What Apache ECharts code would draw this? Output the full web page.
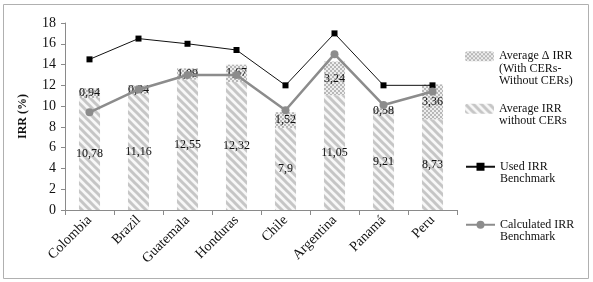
<!DOCTYPE html>
<html>
<head>
<meta charset="utf-8">
<script src="https://cdn.jsdelivr.net/npm/echarts@6/dist/echarts.min.js"></script>
<style>
  html, body { margin: 0; padding: 0; background: #fff; }
  #chart { width: 593px; height: 282px; }
</style>
</head>
<body>
<div id="chart"></div>
<script>
  // 数据
  const countries = ['Colombia', 'Brazil', 'Guatemala', 'Honduras', 'Chile', 'Argentina', 'Panamá', 'Peru']
  const irrWithout = [10.78, 11.16, 12.55, 12.32, 7.9, 11.05, 9.21, 8.73]
  const deltaIrr = [0.94, 0.84, 1.09, 1.67, 1.52, 3.24, 0.58, 3.36]
  const usedBenchmark = [14.5, 16.5, 16.0, 15.4, 12.0, 17.0, 12.0, 12.0]
  const calcBenchmark = [9.4, 11.6, 13.0, 13.0, 9.6, 15.0, 10.1, 11.4]
  const yTicks = { min: 0, max: 18, interval: 2 }

  const font = 'Liberation Serif'

  /** 斜线填充 */
  const makeHatch = () => {
    const c = document.createElement('canvas')
    c.width = 8
    c.height = 8
    const ctx = c.getContext('2d')
    ctx.fillStyle = '#f7f7f7'
    ctx.fillRect(0, 0, 8, 8)
    ctx.strokeStyle = '#c6c6c6'
    ctx.lineWidth = 3
    ctx.beginPath()
    ctx.moveTo(-2, -2); ctx.lineTo(10, 10)
    ctx.moveTo(-10, -2); ctx.lineTo(2, 10)
    ctx.moveTo(6, -2); ctx.lineTo(18, 10)
    ctx.stroke()
    return c
  }

  /** 棋盘点填充 */
  const makeDots = () => {
    const c = document.createElement('canvas')
    c.width = 4
    c.height = 4
    const ctx = c.getContext('2d')
    ctx.fillStyle = '#eeeeee'
    ctx.fillRect(0, 0, 4, 4)
    ctx.fillStyle = '#b8b8b8'
    ctx.fillRect(0, 0, 2, 2)
    ctx.fillRect(2, 2, 2, 2)
    return c
  }

  const fmt = (p) => String(p.value).replace('.', ',')

  // 图例图标对齐第一行：在文字前补空行
  const firstLineFmt = (name) => '\n'.repeat(name.split('\n').length - 1) + name

  const chartDom = echarts.init(document.getElementById('chart'))

  const legendBase = {
    orient: 'vertical',
    left: 460,
    itemWidth: 29,
    itemHeight: 10,
    itemGap: 0,
    selectedMode: false,
    formatter: firstLineFmt,
    textStyle: { fontFamily: font, fontSize: 12, color: '#111', lineHeight: 12.5 }
  }

  chartDom.setOption({
    animation: false,
    graphic: [{
      type: 'rect',
      shape: { x: 3.5, y: 4.5, width: 585, height: 274 },
      style: { fill: 'none', stroke: '#b0b0b0', lineWidth: 1 },
      silent: true
    }],
    legend: [
      Object.assign({}, legendBase, { top: 20, data: ['Average Δ IRR\n(With CERs-\nWithout CERs)'] }),
      Object.assign({}, legendBase, { top: 85, data: ['Average IRR\nwithout CERs'] }),
      Object.assign({}, legendBase, { top: 143, data: ['Used IRR\nBenchmark'] }),
      Object.assign({}, legendBase, { top: 201, data: ['Calculated IRR\nBenchmark'] })
    ],
    grid: { left: 65, right: 136, top: 23, bottom: 72 },
    xAxis: {
      type: 'category',
      data: countries,
      axisLine: { lineStyle: { color: '#8a8a8a' } },
      axisTick: { show: true, lineStyle: { color: '#8a8a8a' } },
      axisLabel: { rotate: 45, fontFamily: font, fontSize: 14, color: '#111', margin: 8 }
    },
    yAxis: {
      type: 'value',
      min: yTicks.min,
      max: yTicks.max,
      interval: yTicks.interval,
      name: 'IRR (%)',
      nameLocation: 'middle',
      nameGap: 36,
      nameTextStyle: { fontFamily: font, fontSize: 12, fontWeight: 'bold', color: '#111' },
      axisLine: { show: true, lineStyle: { color: '#8a8a8a' } },
      axisTick: { show: true, length: 4, lineStyle: { color: '#8a8a8a' } },
      splitLine: { show: false },
      axisLabel: { fontFamily: font, fontSize: 14, color: '#111', margin: 9 }
    },
    series: [
      {
        name: 'Average IRR\nwithout CERs',
        type: 'bar',
        stack: 'irr',
        barWidth: '43%',
        data: irrWithout,
        itemStyle: { color: { image: makeHatch(), repeat: 'repeat' } },
        label: { show: true, position: 'inside', formatter: fmt, fontFamily: font, fontSize: 12, color: '#111' },
        z: 1
      },
      {
        name: 'Average Δ IRR\n(With CERs-\nWithout CERs)',
        type: 'bar',
        stack: 'irr',
        barWidth: '43%',
        data: deltaIrr,
        itemStyle: { color: { image: makeDots(), repeat: 'repeat' } },
        label: { show: true, position: 'inside', formatter: fmt, fontFamily: font, fontSize: 12, color: '#111' },
        z: 1
      },
      {
        name: 'Used IRR\nBenchmark',
        type: 'line',
        data: usedBenchmark,
        symbol: 'rect',
        symbolSize: 6,
        lineStyle: { color: '#111', width: 1 },
        itemStyle: { color: '#000' },
        z: 3
      },
      {
        name: 'Calculated IRR\nBenchmark',
        type: 'line',
        data: calcBenchmark,
        symbol: 'circle',
        symbolSize: 8,
        lineStyle: { color: '#8c8c8c', width: 2.5 },
        itemStyle: { color: '#8c8c8c' },
        z: 4
      }
    ]
  })

  window.addEventListener('resize', () => chartDom.resize())
</script>
</body>
</html>
